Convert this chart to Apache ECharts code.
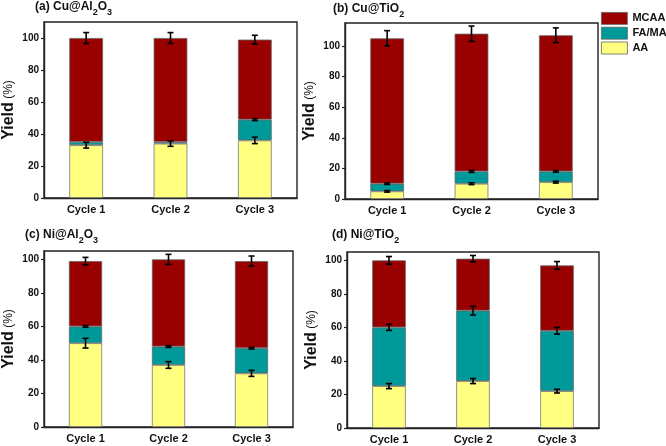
<!DOCTYPE html>
<html>
<head>
<meta charset="utf-8">
<script src="https://cdn.jsdelivr.net/npm/echarts@6/dist/echarts.min.js"></script>
<style>
  html, body { margin: 0; padding: 0; background: #fff; }
  #main { width: 666px; height: 446px; }
</style>
</head>
<body>
<div id="main"></div>
<script>
// categories
var cycles = ['Cycle 1', 'Cycle 2', 'Cycle 3']

// (a) Cu@Al2O3
var aaCuAl = [33, 34, 36]
var faCuAl = [2, 1, 13]
var mcCuAl = [65, 65, 50]
var aaErrCuAl = [1.8, 1.7, 2.0]
var faErrCuAl = [0, 0, 0.6]
var mcErrCuAl = [3.4, 3.4, 2.7]

// (b) Cu@TiO2
var aaCuTi = [5, 10, 11]
var faCuTi = [5, 8, 7]
var mcCuTi = [95, 90, 89]
var aaErrCuTi = [0.5, 0.6, 0.6]
var faErrCuTi = [0.5, 0.6, 0.5]
var mcErrCuTi = [5.0, 5.0, 4.8]

// (c) Ni@Al2O3
var aaNiAl = [50, 37, 32]
var faNiAl = [10, 11, 15]
var mcNiAl = [39, 52, 52]
var aaErrNiAl = [2.9, 2.0, 1.8]
var faErrNiAl = [0.5, 0.5, 0.5]
var mcErrNiAl = [2.2, 3.0, 3.0]

// (d) Ni@TiO2
var aaNiTi = [25, 28, 22]
var faNiTi = [35, 42, 36]
var mcNiTi = [40, 31, 39]
var aaErrNiTi = [1.5, 1.5, 1.1]
var faErrNiTi = [1.8, 2.6, 2.0]
var mcErrNiTi = [2.3, 1.9, 2.3]

// y axis tops
var yMax = [110, 115, 105, 105]

var colors = { MCAA: '#990000', FA: '#009999', AA: '#ffff80' }
var font = 'Liberation Sans, Arial, sans-serif'

var panels = [
  { t: ['(a) Cu@Al', '2', 'O', '3'], aa: aaCuAl, fa: faCuAl, mc: mcCuAl, ea: aaErrCuAl, ef: faErrCuAl, em: mcErrCuAl,
    grid: { left: 43, top: 22, width: 254, height: 176 }, title: { left: 35, top: 1 } },
  { t: ['(b) Cu@TiO', '2'], aa: aaCuTi, fa: faCuTi, mc: mcCuTi, ea: aaErrCuTi, ef: faErrCuTi, em: mcErrCuTi,
    grid: { left: 345, top: 23, width: 253, height: 176 }, title: { left: 333, top: 3 } },
  { t: ['(c) Ni@Al', '2', 'O', '3'], aa: aaNiAl, fa: faNiAl, mc: mcNiAl, ea: aaErrNiAl, ef: faErrNiAl, em: mcErrNiAl,
    grid: { left: 37, top: 251, width: 256, height: 176 }, title: { left: 25, top: 229 } },
  { t: ['(d) Ni@TiO', '2'], aa: aaNiTi, fa: faNiTi, mc: mcNiTi, ea: aaErrNiTi, ef: faErrNiTi, em: mcErrNiTi,
    grid: { left: 347, top: 252, width: 252, height: 176 }, title: { left: 332, top: 229 } }
]

function titleText(parts) {
  var s = ''
  parts.forEach(function(p, i) {
    s += (i % 2 === 0 ? '{b|' : '{s|') + p + '}'
  })
  return s
}

// error bar renderer: value = [categoryIndex, centre, err]
function renderErr(params, api) {
  var err = api.value(2)
  if (!err) return
  var hi = api.coord([api.value(0), api.value(1) + err])
  var lo = api.coord([api.value(0), api.value(1) - err])
  var hw = 3
  var st = { stroke: '#000', lineWidth: 1.6 }
  return {
    type: 'group',
    children: [
      { type: 'line', shape: { x1: hi[0], y1: hi[1], x2: lo[0], y2: lo[1] }, style: st },
      { type: 'line', shape: { x1: hi[0] - hw, y1: hi[1], x2: hi[0] + hw, y2: hi[1] }, style: st },
      { type: 'line', shape: { x1: lo[0] - hw, y1: lo[1], x2: lo[0] + hw, y2: lo[1] }, style: st }
    ]
  }
}

var option = {
  animation: false,
  backgroundColor: '#fff',
  textStyle: { fontFamily: font },
  title: [],
  grid: [],
  xAxis: [],
  yAxis: [],
  series: [],
  legend: {
    orient: 'vertical',
    left: 601,
    top: 12,
    padding: 0,
    itemWidth: 26,
    itemHeight: 12,
    itemGap: 2,
    icon: 'rect',
    data: ['MCAA', 'FA/MA', 'AA'],
    itemStyle: { borderColor: '#666', borderWidth: 0.8 },
    textStyle: { fontFamily: font, fontWeight: 'bold', fontSize: 11, color: '#111' }
  }
}

panels.forEach(function(p, k) {
  option.title.push({
    left: p.title.left,
    top: p.title.top,
    padding: 0,
    text: titleText(p.t),
    textStyle: {
      rich: {
        b: { fontFamily: font, fontWeight: 'bold', fontSize: 12, color: '#111', padding: [0, 0, 4, 0], verticalAlign: 'bottom' },
        s: { fontFamily: font, fontWeight: 'bold', fontSize: 9, color: '#111', verticalAlign: 'bottom' }
      }
    }
  })
  option.grid.push({
    left: p.grid.left, top: p.grid.top, width: p.grid.width, height: p.grid.height,
    show: true, borderColor: '#222', borderWidth: 1.4, backgroundColor: 'transparent'
  })
  option.xAxis.push({
    gridIndex: k,
    type: 'category',
    data: cycles,
    axisLine: { lineStyle: { color: '#222', width: 1.4 } },
    axisTick: { show: false },
    axisLabel: { fontFamily: font, fontWeight: 'bold', fontSize: 11, color: '#111', margin: 6 }
  })
  option.yAxis.push({
    gridIndex: k,
    type: 'value',
    min: 0,
    max: yMax[k],
    interval: 20,
    name: '{y|Yield} {p|(%)}',
    nameLocation: 'middle',
    nameGap: 27,
    nameTextStyle: {
      rich: {
        y: { fontFamily: font, fontWeight: 'bold', fontSize: 16, color: '#111' },
        p: { fontFamily: font, fontSize: 12, color: '#111' }
      }
    },
    splitLine: { show: false },
    axisLine: { show: true, lineStyle: { color: '#222', width: 1.4 } },
    axisTick: { show: true, length: 3, lineStyle: { color: '#222', width: 1.2 } },
    axisLabel: { fontFamily: font, fontWeight: 'bold', fontSize: 10, color: '#111', margin: 5, showMaxLabel: false }
  })

  var barBase = {
    type: 'bar',
    xAxisIndex: k,
    yAxisIndex: k,
    stack: 'yield' + k,
    barWidth: '40%'
  }
  option.series.push(Object.assign({}, barBase, {
    name: 'AA', data: p.aa,
    itemStyle: { color: colors.AA, borderColor: '#777', borderWidth: 0.8 }
  }))
  option.series.push(Object.assign({}, barBase, {
    name: 'FA/MA', data: p.fa,
    itemStyle: { color: colors.FA, borderColor: '#666', borderWidth: 0.8 }
  }))
  option.series.push(Object.assign({}, barBase, {
    name: 'MCAA', data: p.mc,
    itemStyle: { color: colors.MCAA, borderColor: '#666', borderWidth: 0.8 }
  }))

  var errData = []
  cycles.forEach(function(c, i) {
    var a = p.aa[i], f = p.fa[i], m = p.mc[i]
    errData.push([i, a, p.ea[i]])
    errData.push([i, a + f, p.ef[i]])
    errData.push([i, a + f + m, p.em[i]])
  })
  option.series.push({
    type: 'custom',
    xAxisIndex: k,
    yAxisIndex: k,
    z: 5,
    renderItem: renderErr,
    data: errData
  })
})

var myChart = echarts.init(document.getElementById('main'))
myChart.setOption(option)
</script>
</body>
</html>
